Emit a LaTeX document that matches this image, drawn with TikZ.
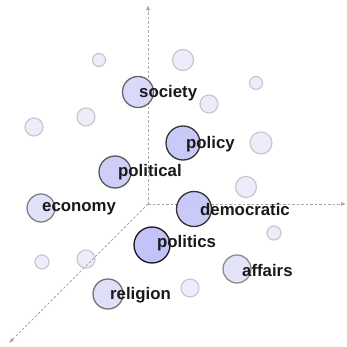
\documentclass[tikz,border=0pt]{standalone}
\usepackage{fontspec}
\setmainfont{Liberation Sans}
\usetikzlibrary{arrows.meta}
\definecolor{pale}{HTML}{ECECFB}
\definecolor{paleb}{HTML}{C8C8CC}
\tikzset{
  axis/.style={draw=gray!70, dashed, dash pattern=on 2.5pt off 2pt, line width=0.8pt, -{Latex[length=5pt,width=4pt]}},
  dot/.style={circle, draw=paleb, fill=pale, line width=1.2pt, inner sep=0pt, minimum size=#1},
  word/.style={circle, line width=1.3pt, inner sep=0pt, fill opacity=0.92, draw opacity=1},
  lbl/.style={anchor=west, inner sep=0pt, font=\fontsize{16.8}{18}\selectfont\bfseries, text=black!90}
}
\begin{document}
\begin{tikzpicture}[x=1pt,y=-1pt]
\useasboundingbox (0,0) rectangle (347,347);
\coordinate (o) at (148,204);
\coordinate (up) at (148,5);
\coordinate (rt) at (346,204);
\coordinate (dl) at (9,343);
% pale dots
\node[dot=13pt] (p1) at (99,60) {};
\node[dot=21pt] (p2) at (183,60) {};
\node[dot=13pt] (p3) at (256,83) {};
\node[dot=18pt] (p4) at (209,104) {};
\node[dot=18pt] (p5) at (86,117) {};
\node[dot=18pt] (p6) at (34,127) {};
\node[dot=22pt] (p7) at (261,143) {};
\node[dot=21pt] (p8) at (246,187) {};
\node[dot=14pt] (p9) at (274,233) {};
\node[dot=14pt] (p10) at (42,262) {};
\node[dot=18pt] (p11) at (86,259) {};
\node[dot=18pt] (p12) at (190,288) {};
% axes
\draw[axis] (o) -- (up);
\draw[axis] (o) -- (rt);
\draw[axis] (o) -- (dl);
% word circles
\node[word, minimum size=31pt, draw=black!60, fill={rgb,255:red,214;green,214;blue,248}] (cs) at (138,92) {};
\node[word, minimum size=34pt, draw=black!80, fill={rgb,255:red,197;green,197;blue,248}] (cpo) at (183,143) {};
\node[word, minimum size=32pt, draw=black!65, fill={rgb,255:red,202;green,202;blue,248}] (cpl) at (115,172) {};
\node[word, minimum size=28pt, draw=black!50, fill={rgb,255:red,222;green,222;blue,248}] (ce) at (41,208) {};
\node[word, minimum size=35pt, draw=black!80, fill={rgb,255:red,197;green,197;blue,248}] (cd) at (194,209) {};
\node[word, minimum size=36pt, draw=black!90, fill={rgb,255:red,190;green,190;blue,249}] (cp) at (152,245) {};
\node[word, minimum size=28pt, draw=black!45, fill={rgb,255:red,226;green,226;blue,248}] (ca) at (237,269) {};
\node[word, minimum size=30pt, draw=black!55, fill={rgb,255:red,220;green,220;blue,248}] (cr) at (108,294) {};
% labels
\node[lbl] (ls) at (139,93) {society};
\node[lbl] (lpo) at (186,144) {policy};
\node[lbl] (lpl) at (118,172) {political};
\node[lbl] (le) at (42,209) {economy};
\node[lbl] (ld) at (200,209) {democratic};
\node[lbl] (lp) at (157,243) {politics};
\node[lbl] (la) at (242,270) {affairs};
\node[lbl] (lr) at (110,295) {religion};
\end{tikzpicture}
\end{document}
